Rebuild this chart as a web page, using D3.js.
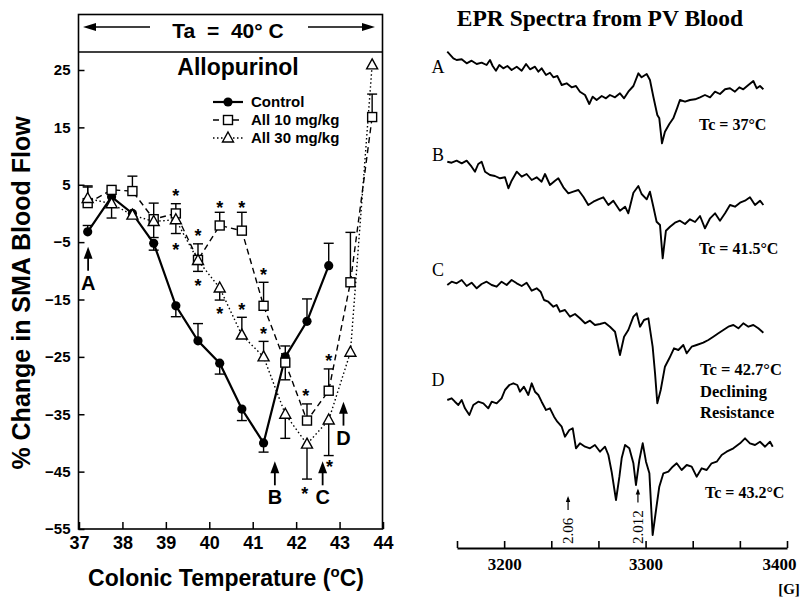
<!DOCTYPE html>
<html>
<head>
<meta charset="utf-8">
<script src="https://cdn.jsdelivr.net/npm/d3@7"></script>
<style>
  body { margin: 0; background: #fff; }
  text { white-space: pre; }
</style>
</head>
<body>
<svg id="fig" width="802" height="598"></svg>
<script>
////////////////////////////////////////////////////////////////////////
// Data

// Left panel: % change in SMA blood flow vs colonic temperature
const temps = [37.2, 37.75, 38.23, 38.72, 39.23, 39.74, 40.24, 40.75, 41.25, 41.75, 42.25, 42.75, 43.25, 43.75];
const controlFlow = [-3.2, 2.9, 0.0, -5.2, -16.1, -22.2, -26.1, -34.1, -40.0, -25.0, -18.8, -9.1];
const controlErr = [1.1, 0, 0, -1.2, -1.9, 3.0, -1.9, -2.0, -1.6, 1.9, 3.9, 3.9];
const all10Flow = [1.8, 4.1, 3.9, -1.0, 0.0, -8.1, -2.1, -3.0, -16.1, -26.0, -36.1, -30.9, -12.0, 16.8];
const all10Err = [2.8, 0, 2.6, 2.8, 1.7, 2.8, 2.3, 3.2, 4.1, -3.0, 2.9, 3.8, 8.7, 4.0];
const all30Flow = [2.6, 1.7, -0.3, -1.4, -1.1, -8.2, -13.0, -21.2, -25.0, -35.0, -40.2, -36.0, -24.2, 25.9];
const all30Err = [2.2, -2.5, 0, -2.8, -2.4, -1.9, -2.1, 3.1, 2.7, -4.2, -6.1, -6.2, 0, 0];
const seriesNames = ["Control", "All 10 mg/kg", "All 30 mg/kg"];

// significance stars (temperature, flow)
const starT = [39.23, 39.23, 39.74, 39.74, 40.24, 40.24, 40.75, 40.75, 41.25, 41.25, 42.22, 42.2, 42.75, 42.77];
const starV = [3.8, -5.6, -3.2, -12.0, 1.7, -16.8, 1.7, -16.2, -10.0, -20.3, -31.1, -48.2, -25.1, -43.5];

// sampling arrows A-D (temperature, flow at arrow tip)
const sampleLetters = ["A", "B", "C", "D"];
const sampleT = [37.21, 41.51, 42.61, 43.09];
const sampleTip = [-5.8, -43.2, -43.2, -32.8];

const flowTicks = [25, 15, 5, -5, -15, -25, -35, -45, -55];
const tempTicks = [37, 38, 39, 40, 41, 42, 43, 44];

// Right panel: EPR spectra [field (G), signal (a.u.)]
const eprA = [[3159.8,38.3],[3164.1,31.7],[3166.4,30],[3170.0,30.7],[3173.5,26.7],[3177.0,29.3],[3180.6,26],[3184.1,27.3],[3187.6,25],[3190.0,30],[3191.9,24],[3194.2,19.3],[3196.6,25],[3199.4,21.7],[3202.3,24],[3205.3,20],[3208.9,23.3],[3212.4,19.3],[3215.5,26],[3218.3,20.7],[3221.8,23.3],[3224.2,18.3],[3226.5,21.7],[3229.6,15],[3232.4,17.3],[3234.8,12.7],[3237.6,14],[3240.7,5],[3244.2,6.7],[3247.7,2.7],[3250.8,4],[3253.6,-1.7],[3257.2,-5],[3260.2,-14],[3262.6,-6.7],[3265.4,-10],[3269.0,-6],[3272.0,-8.3],[3274.8,-5],[3278.4,-7.3],[3281.9,-3.3],[3284.8,-8.3],[3287.8,-1.7],[3291.4,4],[3294.9,16.7],[3297.2,12.7],[3300.8,16],[3303.1,10],[3305.5,-6.7],[3308.3,-25],[3309.7,-28.3],[3311.6,-53.3],[3313.7,-41.7],[3316.8,-34],[3319.6,-28.3],[3322.5,-17.3],[3324.3,-10],[3327.9,-11.7],[3331.4,-10],[3335.0,-9.3],[3338.5,-7.3],[3342.0,-5],[3345.6,-7.3],[3349.1,-1.7],[3352.6,-4],[3356.2,0.7],[3359.7,1.7],[3363.2,-1.7],[3366.3,2.7],[3369.1,0.7],[3372.7,5],[3376.2,9],[3378.6,1.7],[3380.9,4],[3383.3,0.7]];
const eprB = [[3159.8,48.3],[3162.9,47.3],[3166.4,49.3],[3170.0,46.7],[3173.5,49.3],[3177.0,43.3],[3179.4,38.3],[3181.7,46],[3184.1,48.3],[3186.5,38.3],[3190.0,35],[3193.5,34],[3197.1,31.7],[3200.6,32.7],[3203.0,21.7],[3205.3,29.3],[3208.9,38.3],[3212.4,33.3],[3215.9,36],[3219.5,30],[3223.0,32.7],[3226.5,28.3],[3228.9,36],[3232.4,25],[3236.0,29.3],[3238.3,31.7],[3241.9,22.7],[3245.4,16.7],[3248.9,18.3],[3252.5,20],[3256.0,13.3],[3259.5,5],[3263.1,8.3],[3266.6,10.7],[3270.1,12.7],[3273.7,5],[3277.2,9.3],[3281.9,-0.7],[3285.5,3.3],[3287.8,-3.3],[3291.4,17.3],[3294.9,24],[3297.2,16],[3300.8,10.7],[3303.1,18.3],[3305.5,3.3],[3307.8,-11.7],[3310.2,-15],[3312.1,-48.3],[3314.4,-20.7],[3317.3,-16.7],[3320.8,-12.7],[3324.3,-10.7],[3327.9,-14],[3331.4,-9.3],[3335.0,-12],[3338.5,-6],[3342.0,-18.3],[3345.6,-8.3],[3349.1,-3.3],[3352.6,-10.7],[3356.2,-3.3],[3359.7,5],[3363.2,3.3],[3366.8,7.3],[3370.3,9.3],[3373.8,12.7],[3377.4,5],[3380.9,9.3],[3383.3,5]];
const eprC = [[3159.8,35],[3162.9,38.3],[3166.4,36.7],[3170.0,40],[3173.5,34],[3177.0,37.3],[3180.6,31.7],[3184.1,36],[3187.6,38.3],[3191.2,35],[3194.7,33.3],[3198.2,38.3],[3201.8,35],[3205.3,40],[3208.9,36.7],[3212.4,34],[3215.9,37.3],[3219.5,29.3],[3223.0,31.7],[3225.8,28.3],[3228.2,20],[3231.2,18.3],[3234.8,13.3],[3237.1,15],[3239.5,8.3],[3243.0,10],[3246.6,3.3],[3250.1,6],[3253.6,1.7],[3257.2,-3.3],[3260.7,-0.7],[3264.2,-5],[3267.8,-4],[3271.3,-2.7],[3274.8,-6.7],[3278.4,-11.7],[3281.9,-35],[3284.8,-16.7],[3287.8,-10],[3291.4,3.3],[3293.7,6.7],[3296.1,-6.7],[3298.9,0],[3302.0,1.7],[3305.0,-26.7],[3306.7,-53.3],[3308.3,-83.3],[3310.7,-70],[3313.7,-46.7],[3316.8,-38.3],[3320.1,-28.3],[3323.2,-30],[3326.7,-25],[3329.1,-33.3],[3332.6,-26.7],[3336.1,-25],[3340.8,-22.7],[3344.4,-20],[3347.9,-16.7],[3351.5,-13.3],[3355.0,-10],[3358.5,-6.7],[3362.1,-5],[3365.6,-8.3],[3369.1,-3.3],[3372.7,-6.7],[3376.2,-5],[3379.7,-8.3],[3383.3,-12.7]];
const eprD = [[3159.8,40],[3162.9,41.7],[3165.2,38.3],[3167.6,35],[3170.0,40],[3172.3,31.7],[3175.4,25],[3178.2,35],[3181.7,38.3],[3185.3,36.7],[3188.8,31.7],[3191.2,38.3],[3194.7,36.7],[3198.2,41.7],[3200.6,50],[3203.7,55],[3206.5,56.7],[3209.3,55],[3211.2,48.3],[3214.0,53.3],[3217.1,45],[3219.5,56.7],[3221.8,48.3],[3224.2,45],[3226.5,38.3],[3229.6,30],[3232.4,31.7],[3235.3,23.3],[3237.6,18.3],[3240.7,13.3],[3243.0,3.3],[3246.1,10],[3248.5,11.7],[3250.8,-8.3],[3253.6,-3.3],[3257.2,-6.7],[3260.7,-8.3],[3264.2,-5],[3267.8,-11.7],[3271.3,-6.7],[3273.7,-15],[3276.0,-31.7],[3279.1,-60],[3281.5,-36.7],[3283.1,-18.3],[3285.5,-5],[3288.5,-8.3],[3291.4,-23.3],[3293.2,-45],[3295.6,-20],[3298.0,-3.3],[3300.3,-21.7],[3302.7,-33.3],[3305.0,-95],[3307.4,-70],[3309.7,-46.7],[3312.6,-33.3],[3316.1,-31.7],[3319.2,-26.7],[3322.0,-23.3],[3325.5,-30],[3329.1,-25],[3332.6,-26.7],[3336.1,-36.7],[3339.7,-28.3],[3343.2,-30],[3346.7,-23.3],[3350.3,-21.7],[3353.8,-15],[3357.3,-11.7],[3362.1,-8.3],[3366.8,-3.3],[3370.3,1.7],[3373.8,-3.3],[3377.4,-5],[3380.9,-1.7],[3384.5,-6.7],[3388.0,-1.7],[3389.9,-6.7]];
const eprLetters = ["A", "B", "C", "D"];
const eprTemps = ["Tc = 37°C", "Tc = 41.5°C", "Tc = 42.7°C", "Tc = 43.2°C"];
const fieldLabels = [3200, 3300, 3400];
const gFactors = ["2.06", "2.012"];
const gField = [3245.2, 3294.6];

////////////////////////////////////////////////////////////////////////
// Helpers

const sans = "'Liberation Sans', Arial, Helvetica, sans-serif";
const serif = "'Liberation Serif', 'Times New Roman', Times, serif";
const svg = d3.select("#fig");

function label(g, str, x, y, font, size, weight, anchor) {
  return g.append("text")
    .attr("x", x).attr("y", y)
    .attr("font-family", font)
    .attr("font-size", size)
    .attr("font-weight", weight || "bold")
    .attr("text-anchor", anchor || "start")
    .text(str);
}

// filled-head arrow pointing up, tip at (cx, tipY)
function upArrow(g, cx, tipY, len, head, width) {
  head = head || 12;
  g.append("line")
    .attr("x1", cx).attr("x2", cx)
    .attr("y1", tipY + head - 4).attr("y2", tipY + len)
    .attr("stroke", "#000").attr("stroke-width", width || 1.8);
  g.append("path")
    .attr("d", `M${cx},${tipY} L${cx - head * 0.37},${tipY + head} L${cx + head * 0.37},${tipY + head} Z`)
    .attr("fill", "#000");
}

////////////////////////////////////////////////////////////////////////
// Left panel

const x = d3.scaleLinear().domain([37, 44]).range([79, 383]);
const y = d3.scaleLinear().domain([-55, 25]).range([529, 70]);
const left = svg.append("g");

// frame with the header box
left.append("rect")
  .attr("x", 78.5).attr("y", 14.5).attr("width", 304).attr("height", 514.5)
  .attr("fill", "none").attr("stroke", "#000").attr("stroke-width", 1.6);
left.append("line")
  .attr("x1", 78.5).attr("x2", 382.5).attr("y1", 52).attr("y2", 52)
  .attr("stroke", "#000").attr("stroke-width", 1.6);

// header: <-- Ta = 40° C -->
left.append("line").attr("x1", 90).attr("x2", 150).attr("y1", 27).attr("y2", 27)
  .attr("stroke", "#000").attr("stroke-width", 1.4);
left.append("path").attr("d", "M83,27 L96,23 L96,31 Z").attr("fill", "#000");
left.append("line").attr("x1", 308).attr("x2", 368).attr("y1", 27).attr("y2", 27)
  .attr("stroke", "#000").attr("stroke-width", 1.4);
left.append("path").attr("d", "M375,27 L362,23 L362,31 Z").attr("fill", "#000");
label(left, "Ta  =  40° C", 228, 38, sans, 21, "bold", "middle");
label(left, "Allopurinol", 238, 75, sans, 23, "bold", "middle");

// axes with inward ticks
const yAxis = left.append("g")
  .attr("transform", "translate(78.5,0)")
  .call(d3.axisLeft(y).tickValues(flowTicks).tickSizeInner(-6).tickSizeOuter(0).tickPadding(8));
const xAxis = left.append("g")
  .attr("transform", "translate(0,529)")
  .call(d3.axisBottom(x).tickValues(tempTicks).tickFormat(d3.format("d"))
    .tickSizeInner(-7).tickSizeOuter(0).tickPadding(7));
[yAxis, xAxis].forEach(function (a) {
  a.select(".domain").remove();
  a.selectAll("line").attr("stroke-width", 1.5);
  a.selectAll("text").attr("font-family", sans).attr("font-weight", "bold").attr("fill", "#000");
});
yAxis.selectAll("text").attr("font-size", 15);
xAxis.selectAll("text").attr("font-size", 18);

// axis titles
const xt = label(left, "Colonic Temperature (", 226, 586, sans, 23, "bold", "middle");
xt.append("tspan").attr("font-size", 15).attr("dy", -9).text("o");
xt.append("tspan").attr("dy", 9).text("C)");
label(left, "% Change in SMA Blood Flow", 0, 0, sans, 25, "bold", "middle")
  .attr("transform", "translate(30,293) rotate(-90)");

// series
const series = [
  { flow: controlFlow, err: controlErr, dash: null, width: 2.2, shape: "circle" },
  { flow: all10Flow, err: all10Err, dash: "6,4", width: 1.4, shape: "square" },
  { flow: all30Flow, err: all30Err, dash: "1.5,2.5", width: 1.4, shape: "triangle" }
];

function drawMarker(g, shape, cx, cy) {
  if (shape === "circle") {
    g.append("circle").attr("cx", cx).attr("cy", cy).attr("r", 4.6).attr("fill", "#000");
  } else if (shape === "square") {
    g.append("rect").attr("x", cx - 4.5).attr("y", cy - 4.5).attr("width", 9).attr("height", 9)
      .attr("fill", "#fff").attr("stroke", "#000").attr("stroke-width", 1.4);
  } else {
    g.append("path").attr("d", `M${cx},${cy - 6} L${cx + 5.5},${cy + 4} L${cx - 5.5},${cy + 4} Z`)
      .attr("fill", "#fff").attr("stroke", "#000").attr("stroke-width", 1.4);
  }
}

series.forEach(function (s) {
  const pts = s.flow.map((v, i) => [temps[i], v]);
  left.append("path")
    .attr("d", d3.line().x(d => x(d[0])).y(d => y(d[1]))(pts))
    .attr("fill", "none").attr("stroke", "#000")
    .attr("stroke-width", s.width)
    .attr("stroke-dasharray", s.dash);
});

series.forEach(function (s) {
  s.flow.forEach(function (v, i) {
    if (!s.err[i]) return;
    const cx = x(temps[i]), y1 = y(v), y2 = y(v + s.err[i]);
    left.append("line").attr("x1", cx).attr("x2", cx).attr("y1", y1).attr("y2", y2)
      .attr("stroke", "#000").attr("stroke-width", 1.4);
    left.append("line").attr("x1", cx - 5).attr("x2", cx + 5).attr("y1", y2).attr("y2", y2)
      .attr("stroke", "#000").attr("stroke-width", 1.4);
  });
});

series.forEach(function (s) {
  s.flow.forEach(function (v, i) { drawMarker(left, s.shape, x(temps[i]), y(v)); });
});

// significance stars
starT.forEach(function (t, i) {
  label(left, "*", x(t), y(starV[i]) + 10, sans, 18, "bold", "middle");
});

// sample arrows A-D
sampleLetters.forEach(function (l, i) {
  const cx = x(sampleT[i]), tip = y(sampleTip[i]);
  upArrow(left, cx, tip, 24);
  label(left, l, cx, tip + 43, sans, 20, "bold", "middle");
});

// legend
series.forEach(function (s, i) {
  const ly = 102 + i * 18;
  left.append("line").attr("x1", 213).attr("x2", 243).attr("y1", ly).attr("y2", ly)
    .attr("stroke", "#000").attr("stroke-width", s.width).attr("stroke-dasharray", s.dash);
  drawMarker(left, s.shape, 228, ly);
  label(left, seriesNames[i], 251, ly + 5, sans, 15, "bold");
});

////////////////////////////////////////////////////////////////////////
// Right panel: EPR spectra

const xe = d3.scaleLinear().domain([3166.67, 3400]).range([457, 787]);
const right = svg.append("g");
label(right, "EPR Spectra from PV Blood", 600, 26, serif, 23.5, "bold", "middle");

const traces = [eprA, eprB, eprC, eprD];
const traceBase = [90, 210, 320, 440];
const letterY = [73, 161, 276, 386];
traces.forEach(function (tr, i) {
  const ya = d3.scaleLinear().domain([0, 100]).range([traceBase[i], traceBase[i] - 100]);
  right.append("path")
    .attr("d", d3.line().x(d => xe(d[0])).y(d => ya(d[1]))(tr))
    .attr("fill", "none").attr("stroke", "#000")
    .attr("stroke-width", 1.9).attr("stroke-linejoin", "round");
  label(right, eprLetters[i], 438, letterY[i], serif, 18, "normal", "middle");
});

label(right, eprTemps[0], 699, 130, serif, 16, "bold");
label(right, eprTemps[1], 699, 254, serif, 16, "bold");
label(right, eprTemps[2], 700, 375, serif, 16.5, "bold");
label(right, "Declining", 700, 397, serif, 16.5, "bold");
label(right, "Resistance", 700, 418, serif, 16.5, "bold");
label(right, eprTemps[3], 705, 498, serif, 16, "bold");

// g-factor markers: rotated value with a small up arrow above it
gFactors.forEach(function (gf, i) {
  const gx = xe(gField[i]);
  label(right, gf, 0, 0, serif, 15, "normal")
    .attr("transform", `translate(${gx + 5},544) rotate(-90)`);
  const top = 544 - gf.length * 7.5 - 4;
  upArrow(right, gx, top - 14, 14, 6, 1.2);
});

// field axis, ticks pointing up
const fieldAxis = right.append("g")
  .attr("transform", "translate(0,548)")
  .call(d3.axisBottom(xe)
    .tickValues(d3.range(7 + 1).map(k => 3166.67 + k * 100 / 3))
    .tickSizeInner(-7).tickSizeOuter(0).tickPadding(10)
    .tickFormat(function (d) {
      const r = Math.round(d);
      return fieldLabels.includes(r) ? r : "";
    }));
fieldAxis.select(".domain").attr("stroke-width", 1.8);
fieldAxis.selectAll("line").attr("stroke-width", 1.6);
fieldAxis.selectAll("text")
  .attr("font-family", serif).attr("font-size", 17).attr("font-weight", "bold").attr("fill", "#000");
fieldAxis.selectAll("text").filter(d => Math.round(d) === 3400).attr("dx", -8);
label(right, "[G]", 789, 594, serif, 15, "bold", "middle");
</script>
</body>
</html>
